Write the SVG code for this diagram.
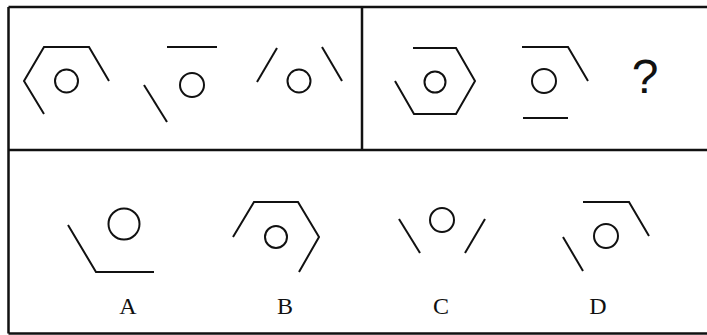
<svg xmlns="http://www.w3.org/2000/svg" width="707" height="335" viewBox="0 0 707 335">
<style>
.frame{fill:none;stroke:#111;stroke-width:2.5}
.s{fill:none;stroke:#111;stroke-width:2;stroke-linejoin:miter;stroke-linecap:butt}
.lbl{font-family:"Liberation Serif",serif;font-size:24px;fill:#111;text-anchor:middle}
.q{font-family:"Liberation Sans",sans-serif;font-size:48px;fill:#111;text-anchor:middle}
</style>
<rect width="707" height="335" fill="#fff"/>
<g id="frame">
<path class="frame" d="M8.5,7 H707 M8.5,150 H707 M8.5,333.5 H707 M8.5,7 V333.5 M362,7 V150"/>
</g>
<g id="fig1">
<polyline class="s" points="44,114 24,81 44,47 89,47 109,81"/>
<circle class="s" cx="66.5" cy="81" r="11.5"/>
</g>
<g id="fig2">
<line class="s" x1="167" y1="47" x2="217" y2="47"/>
<line class="s" x1="144" y1="85" x2="167" y2="122"/>
<circle class="s" cx="192" cy="85" r="12"/>
</g>
<g id="fig3">
<line class="s" x1="257" y1="82" x2="277" y2="48"/>
<line class="s" x1="322" y1="47" x2="342" y2="81"/>
<circle class="s" cx="299" cy="81" r="11.5"/>
</g>
<g id="fig4">
<polyline class="s" points="395,81 414,114 456,114 475,81 456,48 413,48"/>
<circle class="s" cx="435" cy="82" r="10.5"/>
</g>
<g id="fig5">
<polyline class="s" points="522,47 568,47 588,81"/>
<line class="s" x1="523" y1="118" x2="568" y2="118"/>
<circle class="s" cx="544" cy="81" r="12"/>
</g>
<g id="question">
<text class="q" x="645" y="93">?</text>
</g>
<g id="optA">
<polyline class="s" points="68,225 96,272 154,272"/>
<circle class="s" cx="124" cy="224" r="15.5"/>
<text class="lbl" x="128" y="314">A</text>
</g>
<g id="optB">
<polyline class="s" points="233,237 254,202 298,202 319,237 299,272"/>
<circle class="s" cx="276" cy="237" r="11"/>
<text class="lbl" x="285" y="314">B</text>
</g>
<g id="optC">
<line class="s" x1="399" y1="219" x2="420" y2="253"/>
<line class="s" x1="485" y1="219" x2="465" y2="253"/>
<circle class="s" cx="442" cy="220" r="12"/>
<text class="lbl" x="441" y="314">C</text>
</g>
<g id="optD">
<polyline class="s" points="583,202 629,202 649,236"/>
<line class="s" x1="563" y1="237" x2="583" y2="271"/>
<circle class="s" cx="606" cy="236" r="12"/>
<text class="lbl" x="598" y="314">D</text>
</g>
<g id="connectors"></g>
</svg>
